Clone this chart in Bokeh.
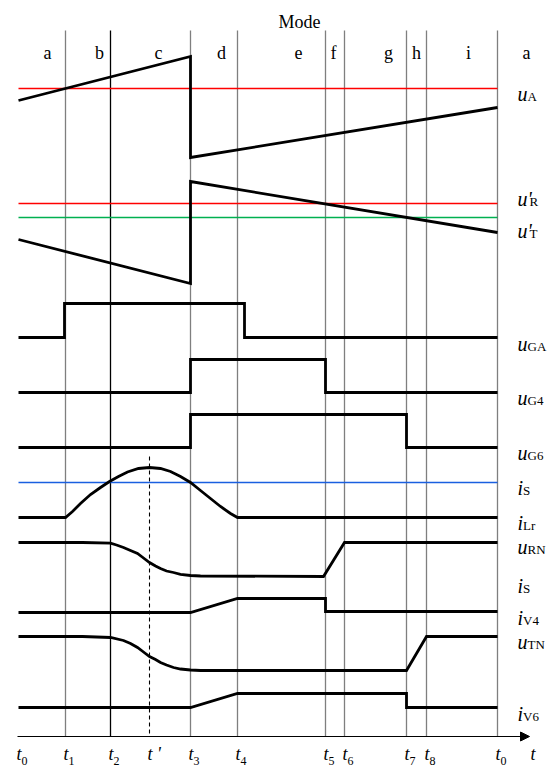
from bokeh.plotting import figure
from bokeh.models import Range1d, Arrow, NormalHead
from bokeh.core.properties import value
from bokeh.embed import file_html
from bokeh.resources import INLINE

# ---------------- data ----------------
# time instants (time units from t0)
tick_main = ["t", "t", "t", "t '", "t", "t", "t", "t", "t", "t", "t"]
tick_sub = ["0", "1", "2", "", "3", "4", "5", "6", "7", "8", "0"]
tick_times = [0, 47, 92, 131, 172, 219, 307, 326, 388, 408, 479]

grid_times = [47, 92, 172, 219, 307, 326, 388, 408, 479]
grid_colors = ["#7f7f7f", "#000000", "#7f7f7f", "#7f7f7f", "#7f7f7f",
               "#7f7f7f", "#7f7f7f", "#7f7f7f", "#7f7f7f"]
tprime_time = 131

mode_letters = ["a", "b", "c", "d", "e", "f", "g", "h", "i", "a"]
mode_times = [29, 81, 140, 203, 280, 315, 370, 398, 450, 508]

# carrier / modulating waves (levels in chart units, top = small)
uA_t = [0, 172, 172, 479]
uA_v = [100, 56, 157, 107]
uRT_t = [0, 172, 172, 479]
uRT_v = [239, 283, 181, 232]
uA_ref = 88
uR_ref = 203
uT_ref = 217
iS_ref = 482

# gate signals
uGA_t = [0, 46, 46, 226, 226, 479]
uGA_v = [337, 337, 303, 303, 337, 337]
uG4_t = [0, 172, 172, 307, 307, 479]
uG4_v = [392, 392, 359, 359, 392, 392]
uG6_t = [0, 172, 172, 388, 388, 479]
uG6_v = [447, 447, 414, 414, 447, 447]

# resonant current
iLr_t = [0, 47, 54, 62, 72, 82, 91, 100, 109, 120, 131, 142, 152, 162, 172,
         182, 192, 202, 212, 219, 479]
iLr_v = [517, 517, 511, 503, 494, 487, 481, 476, 471.5, 468, 467, 468, 471,
         476, 482, 490, 498, 506, 513, 517, 517]

# switch voltages and currents
uRN_t = [0, 64, 92, 98, 105, 112, 119, 125, 131, 137, 142, 148, 155, 162,
         172, 182, 305, 326, 479]
uRN_v = [542, 542, 542.7, 544.5, 547, 550, 553, 557.5, 562, 565.5, 568,
         570.5, 572, 573.8, 575, 575.5, 576, 542, 542]
iV4_t = [0, 172, 219, 307, 307, 479]
iV4_v = [612, 612, 598, 598, 611, 611]
uTN_t = [0, 64, 92, 105, 112, 119, 125, 131, 137, 142, 148, 155, 162, 172,
         182, 388, 408, 479]
uTN_v = [636, 636, 637, 640, 643, 647, 651.5, 656, 659, 662, 664.5, 667,
         668.5, 669.5, 670, 670, 636, 636]
iV6_t = [0, 172, 219, 388, 388, 479]
iV6_v = [707, 707, 693, 693, 707, 707]

# right-hand labels
lab_main = ["u", "u'", "u'", "u", "u", "u", "i", "i", "u", "i", "i", "u", "i"]
lab_sub = ["A", "R", "T", "GA", "G4", "G6", "S", "Lr", "RN", "S", "V4", "TN", "V6"]
lab_level = [88, 193, 225, 338, 392, 447, 482, 517, 541, 580, 612, 636, 708]

# ---------------- figure ----------------
FONT = value("Liberation Serif")
p = figure(width=548, height=766, output_backend="svg", toolbar_location=None,
           x_range=Range1d(-18, 530), y_range=Range1d(766, 0),
           x_axis_location=None, y_axis_location=None, min_border=0)
p.grid.visible = False
p.outline_line_color = None
p.background_fill_color = "white"

GRID_TOP = 30
AXIS_Y = 736

# vertical time lines
p.segment(x0=grid_times, y0=[GRID_TOP] * len(grid_times), x1=grid_times,
          y1=[AXIS_Y] * len(grid_times), line_color=grid_colors, line_width=1.3)
p.segment(x0=[tprime_time], y0=[456], x1=[tprime_time], y1=[AXIS_Y],
          line_color="black", line_width=1.1, line_dash="4 3")

# reference lines
t_end = tick_times[-1]
p.line([0, t_end], [uA_ref, uA_ref], line_color="#ff0000", line_width=1.6)
p.line([0, t_end], [uR_ref, uR_ref], line_color="#ff0000", line_width=1.6)
p.line([0, t_end], [uT_ref, uT_ref], line_color="#00b050", line_width=1.6)
p.line([0, t_end], [iS_ref, iS_ref], line_color="#1a5fe0", line_width=1.6)

LW = 2.8
for tt, vv in [(uA_t, uA_v), (uRT_t, uRT_v), (uGA_t, uGA_v), (uG4_t, uG4_v),
               (uG6_t, uG6_v), (iLr_t, iLr_v), (uRN_t, uRN_v), (iV4_t, iV4_v),
               (uTN_t, uTN_v), (iV6_t, iV6_v)]:
    p.line(tt, vv, line_color="black", line_width=LW, line_join="miter")

# time axis with arrow
p.add_layout(Arrow(x_start=-1, y_start=AXIS_Y, x_end=511, y_end=AXIS_Y,
                   line_color="black", line_width=1.2,
                   end=NormalHead(size=9, fill_color="black", line_color="black")))

# tick labels
tick_x = [t - 2 for t in tick_times]
p.text(x=tick_x, y=[753] * len(tick_x), text=tick_main, text_font=FONT,
       text_font_style="italic", text_font_size="18px", text_align="left",
       text_baseline="alphabetic", text_color="black")
p.text(x=[x + 5 for x in tick_x], y=[760] * len(tick_x), text=tick_sub,
       text_font=FONT, text_font_size="12px", text_align="left",
       text_baseline="alphabetic", text_color="black")
p.text(x=[512], y=[753], text=["t"], text_font=FONT, text_font_style="italic",
       text_font_size="18px", text_align="left", text_baseline="alphabetic")

# mode row
p.text(x=[281], y=[21], text=["Mode"], text_font=FONT, text_font_size="18px",
       text_align="center", text_baseline="alphabetic")
p.text(x=mode_times, y=[52] * len(mode_times), text=mode_letters, text_font=FONT,
       text_font_size="18px", text_align="center", text_baseline="alphabetic")

# right labels
LX = 499
main_w = {"u": 10, "u'": 12, "i": 5.5}
p.text(x=[LX] * len(lab_main), y=[v + 5 for v in lab_level], text=lab_main,
       text_font=FONT, text_font_style="italic", text_font_size="20px",
       text_align="left", text_baseline="alphabetic")
p.text(x=[LX + main_w[m] for m in lab_main], y=[v + 8 for v in lab_level],
       text=lab_sub, text_font=FONT, text_font_size="13px", text_align="left",
       text_baseline="alphabetic")

open("out.html", "w").write(file_html(p, INLINE))
